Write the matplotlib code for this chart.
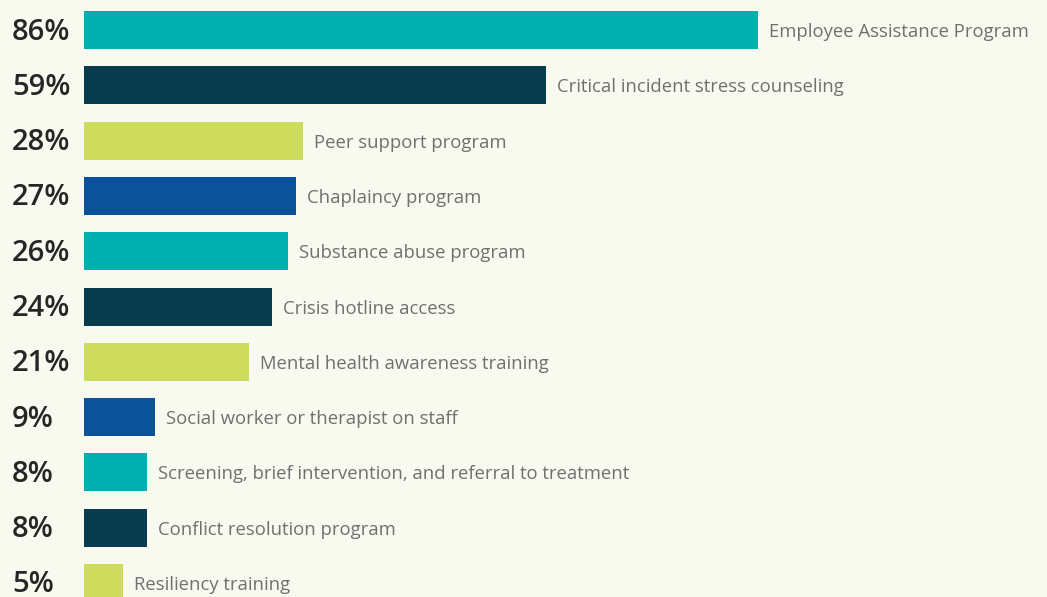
import matplotlib
matplotlib.use("Agg")
import matplotlib.pyplot as plt
from matplotlib.transforms import blended_transform_factory, ScaledTranslation

categories = [
    "Employee Assistance Program",
    "Critical incident stress counseling",
    "Peer support program",
    "Chaplaincy program",
    "Substance abuse program",
    "Crisis hotline access",
    "Mental health awareness training",
    "Social worker or therapist on staff",
    "Screening, brief intervention, and referral to treatment",
    "Conflict resolution program",
    "Resiliency training",
]
values = [86, 59, 28, 27, 26, 24, 21, 9, 8, 8, 5]
palette = ["#00AFAE", "#083B4E", "#CDDC5B", "#0B529B"]

W, H = 1047, 597
dpi = 100
bg = "#F8FAF0"
fig = plt.figure(figsize=(W / dpi, H / dpi), dpi=dpi, facecolor=bg)
x0 = 84
px_per = 7.837
ax = fig.add_axes([x0 / W, 0, 1 - x0 / W, 1])
ax.set_facecolor(bg)
ax.set_xlim(0, (W - x0) / px_per)
top_c, step = 30, 55.3
ax.set_ylim((H - top_c) / step, -top_c / step)
ax.axis("off")

ys = list(range(len(values)))
colors = [palette[i % 4] for i in ys]
ax.barh(ys, values, height=38 / step, color=colors)

fam = ["Open Sans", "DejaVu Sans"]
lab_tr = blended_transform_factory(fig.transFigure, ax.transData)
down = ScaledTranslation(0, -2 / dpi, fig.dpi_scale_trans)
for y, v, c in zip(ys, values, categories):
    ax.text(v, y, c, transform=ax.transData + ScaledTranslation(11 / dpi, -2 / dpi, fig.dpi_scale_trans),
            ha="left", va="center", fontsize=13.3, color="#707070", family=fam)
    ax.text(12 / W, y, f"{v}%", transform=lab_tr + down, ha="left", va="center",
            fontsize=21, fontweight="semibold", color="#262626", family=fam)

fig.savefig("out.png", dpi=dpi, facecolor=bg)
